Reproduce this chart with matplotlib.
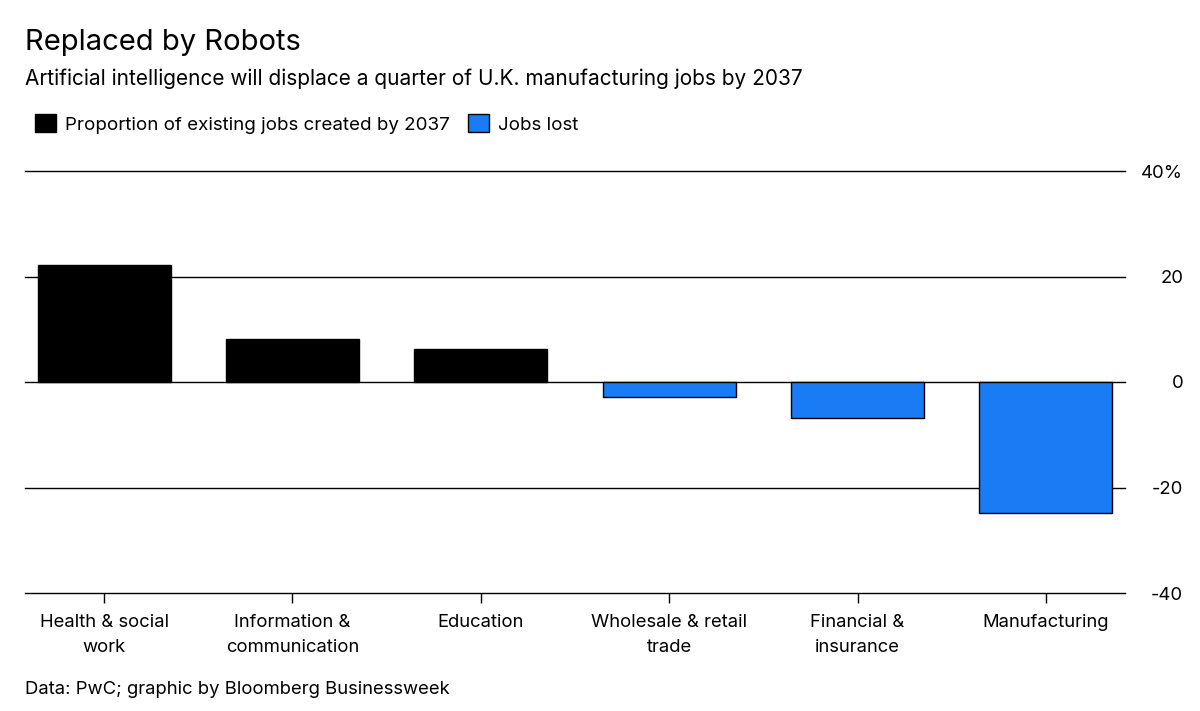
import matplotlib.pyplot as plt
from matplotlib.patches import Patch

categories = ["Health & social\nwork", "Information &\ncommunication", "Education",
              "Wholesale & retail\ntrade", "Financial &\ninsurance", "Manufacturing"]
values = [22.2, 8.2, 6.3, -2.8, -6.8, -24.9]
yticks = [-40, -20, 0, 20, 40]
ytick_labels = ["-40", "-20", "0", "20", "40%"]

BLUE = "#1a7cf5"
plt.rcParams['font.family'] = ['Inter', 'DejaVu Sans']

fig = plt.figure(figsize=(12, 7.11), dpi=100)
ax = fig.add_axes([25 / 1200, 1 - 593 / 711, 1100 / 1200, (593 - 171) / 711])

colors = ["black" if v >= 0 else BLUE for v in values]
x = range(len(values))
ax.bar(x, values, width=0.705, color=colors, edgecolor="black", linewidth=1, zorder=3)
ax.set_xlim(-0.42, len(values) - 0.58)
ax.set_ylim(-40, 40)
ax.set_yticks(yticks)
ax.set_yticklabels(ytick_labels)
ax.yaxis.tick_right()
for t in yticks:
    ax.axhline(t, color="black", linewidth=1, zorder=1, clip_on=False)
ax.tick_params(axis="y", length=0, labelsize=13.3, pad=42)
ax.set_xticks(list(x))
ax.set_xticklabels(categories, fontsize=13.3, linespacing=1.6)
ax.tick_params(axis="x", length=7, width=1, labelsize=13.3, pad=8)
for s in ax.spines.values():
    s.set_visible(False)
for lbl in ax.get_yticklabels():
    lbl.set_horizontalalignment("right")

fig.text(25 / 1200, 1 - 43 / 711, "Replaced by Robots", fontsize=21, va="center")
fig.text(25 / 1200, 1 - 79 / 711,
         "Artificial intelligence will displace a quarter of U.K. manufacturing jobs by 2037",
         fontsize=15, va="center")
handles = [Patch(facecolor="black", edgecolor="black", label="Proportion of existing jobs created by 2037"),
           Patch(facecolor=BLUE, edgecolor="black", label="Jobs lost")]
fig.legend(handles=handles, loc="center left", bbox_to_anchor=(18 / 1200, 1 - 124 / 711),
           ncol=2, frameon=False, fontsize=13.5, handlelength=1.1, handleheight=1.1,
           handletextpad=0.5, columnspacing=1.0)
fig.text(25 / 1200, 1 - 689 / 711, "Data: PwC; graphic by Bloomberg Businessweek",
         fontsize=13.3, va="center")

fig.savefig("out.png", dpi=100)
